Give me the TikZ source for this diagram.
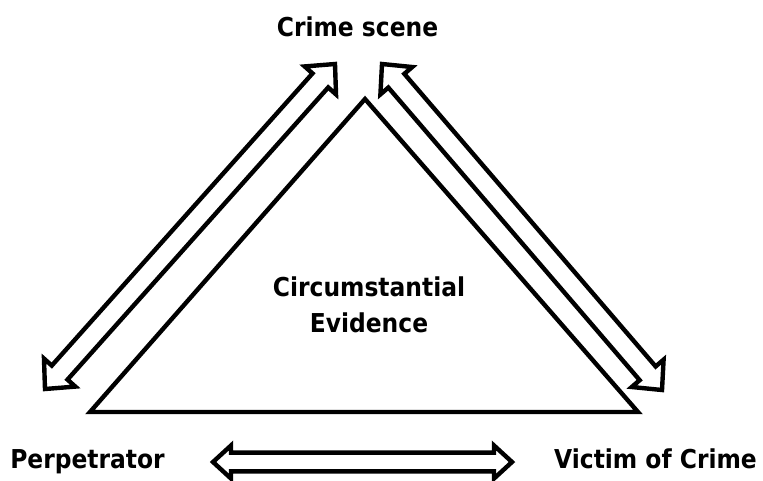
\documentclass[tikz,border=0pt]{standalone}
\usepackage{fontspec}
\setmainfont{DejaVu Sans}[FakeStretch=0.9]
\usetikzlibrary{calc}
\tikzset{
  lbl/.style={font=\fontsize{19.5}{27}\selectfont\bfseries, inner sep=0pt, text=black},
  outl/.style={draw=black, line width=3.3pt, line join=miter, fill=white},
}
% hollow double-headed arrow between two named coordinates
% #1,#2 tips; #3 head length; #4 head half width; #5 shaft half width
\newcommand\hollowdbl[5]{%
  \draw[outl] (#1)
    -- ($(#1)!#3!(#2)!#4!90:(#2)$)
    -- ($(#1)!#3!(#2)!#5!90:(#2)$)
    -- ($(#2)!#3!(#1)!#5!-90:(#1)$)
    -- ($(#2)!#3!(#1)!#4!-90:(#1)$)
    -- (#2)
    -- ($(#2)!#3!(#1)!#4!90:(#1)$)
    -- ($(#2)!#3!(#1)!#5!90:(#1)$)
    -- ($(#1)!#3!(#2)!#5!-90:(#2)$)
    -- ($(#1)!#3!(#2)!#4!-90:(#2)$)
    -- cycle;}
\begin{document}
\begin{tikzpicture}[x=0.75pt, y=-0.75pt]
\useasboundingbox (0,0) rectangle (763,480);
% triangle
\coordinate (apex) at (365,99);
\coordinate (bl) at (90,412);
\coordinate (br) at (638,412);
\draw[outl, fill=none] (bl) -- (apex) -- (br) -- cycle;
% arrows
\coordinate (la) at (45,389);
\coordinate (lb) at (335,64);
\coordinate (ra) at (382,64);
\coordinate (rb) at (662,390);
\coordinate (ba) at (213,462);
\coordinate (bb) at (512,462);
\hollowdbl{la}{lb}{16.5pt}{15.75pt}{7.9pt}
\hollowdbl{ra}{rb}{16.5pt}{15.75pt}{7.9pt}
\hollowdbl{ba}{bb}{13.5pt}{12.4pt}{7pt}
% labels
\node[lbl, anchor=base] (scene) at (357.5,36) {Crime scene};
\node[lbl, anchor=base] (perp) at (87.5,468) {Perpetrator};
\node[lbl, anchor=base] (victim) at (655.5,468) {Victim of Crime};
\node[lbl, align=center] (ce) at (369,305) {Circumstantial\\Evidence};
\end{tikzpicture}
\end{document}
